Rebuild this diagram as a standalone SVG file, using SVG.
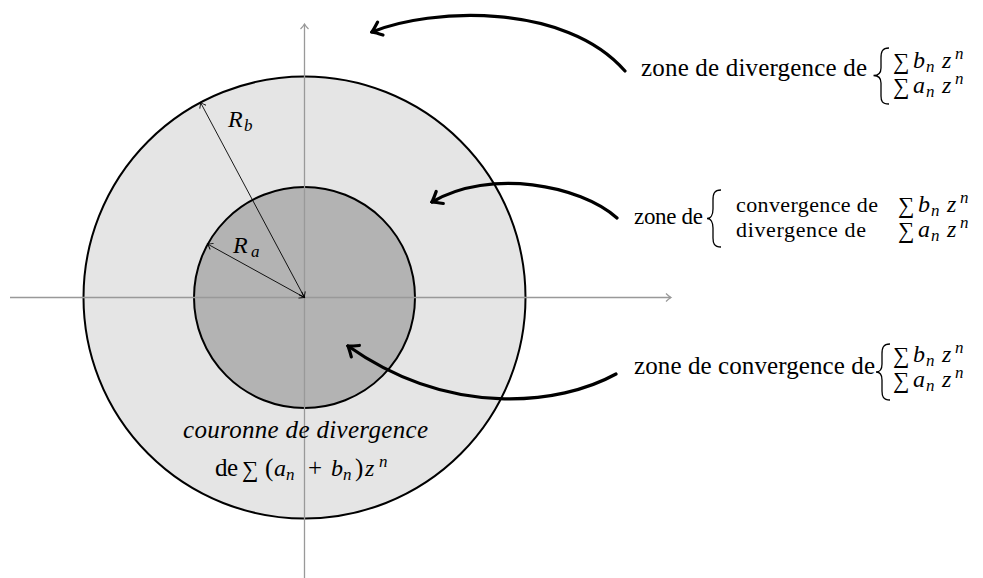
<svg xmlns="http://www.w3.org/2000/svg" width="983" height="578" viewBox="0 0 983 578">
<style>
.w{font-family:"Liberation Serif",serif;font-size:25px;fill:#000}
.w2{font-family:"Liberation Serif",serif;font-size:22px;fill:#000}
.it{font-family:"Liberation Serif",serif;font-size:25px;font-style:italic;fill:#000}
.i{font-family:"Liberation Serif",serif;font-size:24px;font-style:italic;fill:#000}
.s{font-family:"Liberation Serif",serif;font-size:17px;font-style:italic;fill:#000}
.sum{font-family:"Liberation Serif","DejaVu Serif",serif;font-size:23px;fill:#000}
.ax{stroke:#999;stroke-width:1.3;fill:none}
.brace{fill:none;stroke:#000;stroke-width:1.3}
.big{fill:none;stroke:#000;stroke-width:3.2;stroke-linecap:round}
.rad{fill:none;stroke:#000;stroke-width:0.9}
</style>
<defs>
<marker id="mBig" viewBox="-12 -10 14 20" markerWidth="14" markerHeight="20" refX="0" refY="0" orient="auto" markerUnits="userSpaceOnUse">
<path d="M-9,-7 Q-3,-2 0,0 Q-3,2 -9,7" fill="none" stroke="#000" stroke-width="3.2" stroke-linecap="round"/>
</marker>
<marker id="mAx" viewBox="-8 -6 10 12" markerWidth="10" markerHeight="12" refX="0" refY="0" orient="auto" markerUnits="userSpaceOnUse">
<path d="M-5,-4 Q-2,-1 0,0 Q-2,1 -5,4" fill="none" stroke="#999" stroke-width="1.2"/>
</marker>
<marker id="mRad" viewBox="-8 -6 10 12" markerWidth="10" markerHeight="12" refX="0" refY="0" orient="auto-start-reverse" markerUnits="userSpaceOnUse">
<path d="M-5,-3.5 Q-2,-1 0,0 Q-2,1 -5,3.5" fill="none" stroke="#000" stroke-width="0.9"/>
</marker>
</defs>

<g id="outer-disk">
<circle cx="304.5" cy="297.5" r="221" fill="#e5e5e5" stroke="#000" stroke-width="2"/>
</g>
<g id="inner-disk">
<circle cx="304.5" cy="297.5" r="110.5" fill="#b3b3b3" stroke="#000" stroke-width="2"/>
</g>
<g id="axes">
<line class="ax" x1="10" y1="297.5" x2="671" y2="297.5" marker-end="url(#mAx)"/>
<line class="ax" x1="304.5" y1="578" x2="304.5" y2="24" marker-end="url(#mAx)"/>
</g>

<g id="radii">
<line class="rad" x1="304.5" y1="297.5" x2="200.5" y2="102.5" marker-start="url(#mRad)" marker-end="url(#mRad)"/>
<line class="rad" x1="304.5" y1="297.5" x2="207.5" y2="244" marker-start="url(#mRad)" marker-end="url(#mRad)"/>
</g>
<g id="label-Rb">
<text class="i" x="228" y="127">R</text><text class="s" x="244" y="131">b</text>
</g>
<g id="label-Ra">
<text class="i" x="233" y="253">R</text><text class="s" x="251" y="257">a</text>
</g>

<g id="connectors">
<path class="big" d="M625,71 C565,2 430,8 372,32" marker-end="url(#mBig)"/>
<path class="big" d="M617,218 C580,185 490,168 432,202" marker-end="url(#mBig)"/>
<path class="big" d="M616,374 C560,405 450,418 348,346" marker-end="url(#mBig)"/>
</g>

<g id="label-divergence">
<text class="w" x="641" y="76" textLength="226">zone de divergence de</text>
<path class="brace" d="M889,48 C882,48 881,52 881,58 L881,68 C881,73 879,75.5 873.5,75.5 C879,75.5 881,78 881,83 L881,96 C881,101 882,104 889,104"/>
<text class="sum" x="893" y="69">∑</text><text class="i" x="913" y="68">b</text><text class="s" x="926" y="72">n</text><text class="i" x="942" y="68">z</text><text class="s" x="955" y="59">n</text>
<text class="sum" x="893" y="94">∑</text><text class="i" x="913" y="93">a</text><text class="s" x="926" y="97">n</text><text class="i" x="942" y="93">z</text><text class="s" x="955" y="84">n</text>
</g>

<g id="label-mixed">
<text class="w" style="font-size:23px" x="634" y="224" textLength="69">zone de</text>
<path class="brace" d="M721,190 C714,190 713,194 713,200 L713,209 C713,214 711,218.5 707,218.5 C711,218.5 713,223 713,228 L713,238 C713,243 714,247 721,247"/>
<text class="w2" x="736" y="212" textLength="142">convergence de</text>
<text class="sum" x="898" y="213">∑</text><text class="i" x="918" y="212">b</text><text class="s" x="931" y="216">n</text><text class="i" x="947" y="212">z</text><text class="s" x="960" y="203">n</text>
<text class="w2" x="736" y="237" textLength="130">divergence de</text>
<text class="sum" x="898" y="238">∑</text><text class="i" x="918" y="237">a</text><text class="s" x="931" y="241">n</text><text class="i" x="947" y="237">z</text><text class="s" x="960" y="228">n</text>
</g>

<g id="label-convergence">
<text class="w" x="634" y="374" textLength="241">zone de convergence de</text>
<path class="brace" d="M890,344 C883,344 882,348 882,354 L882,364 C882,369 880,372 876,372 C880,372 882,375 882,380 L882,391 C882,396 883,400 890,400"/>
<text class="sum" x="893" y="363">∑</text><text class="i" x="913" y="362">b</text><text class="s" x="926" y="366">n</text><text class="i" x="942" y="362">z</text><text class="s" x="955" y="353">n</text>
<text class="sum" x="893" y="388">∑</text><text class="i" x="913" y="387">a</text><text class="s" x="926" y="391">n</text><text class="i" x="942" y="387">z</text><text class="s" x="955" y="378">n</text>
</g>

<g id="label-couronne">
<text class="it" x="183" y="438" textLength="245">couronne de divergence</text>
<text class="w" x="215" y="476" textLength="23">de</text>
<text class="sum" x="242" y="477">∑</text>
<text class="w" x="265" y="476">(</text>
<text class="i" x="274" y="476">a</text><text class="s" x="286" y="480">n</text>
<text class="w" x="308" y="476">+</text>
<text class="i" x="331" y="476">b</text><text class="s" x="343" y="480">n</text>
<text class="w" x="355" y="476">)</text>
<text class="i" x="365" y="476">z</text><text class="s" x="379" y="467">n</text>
</g>
</svg>
